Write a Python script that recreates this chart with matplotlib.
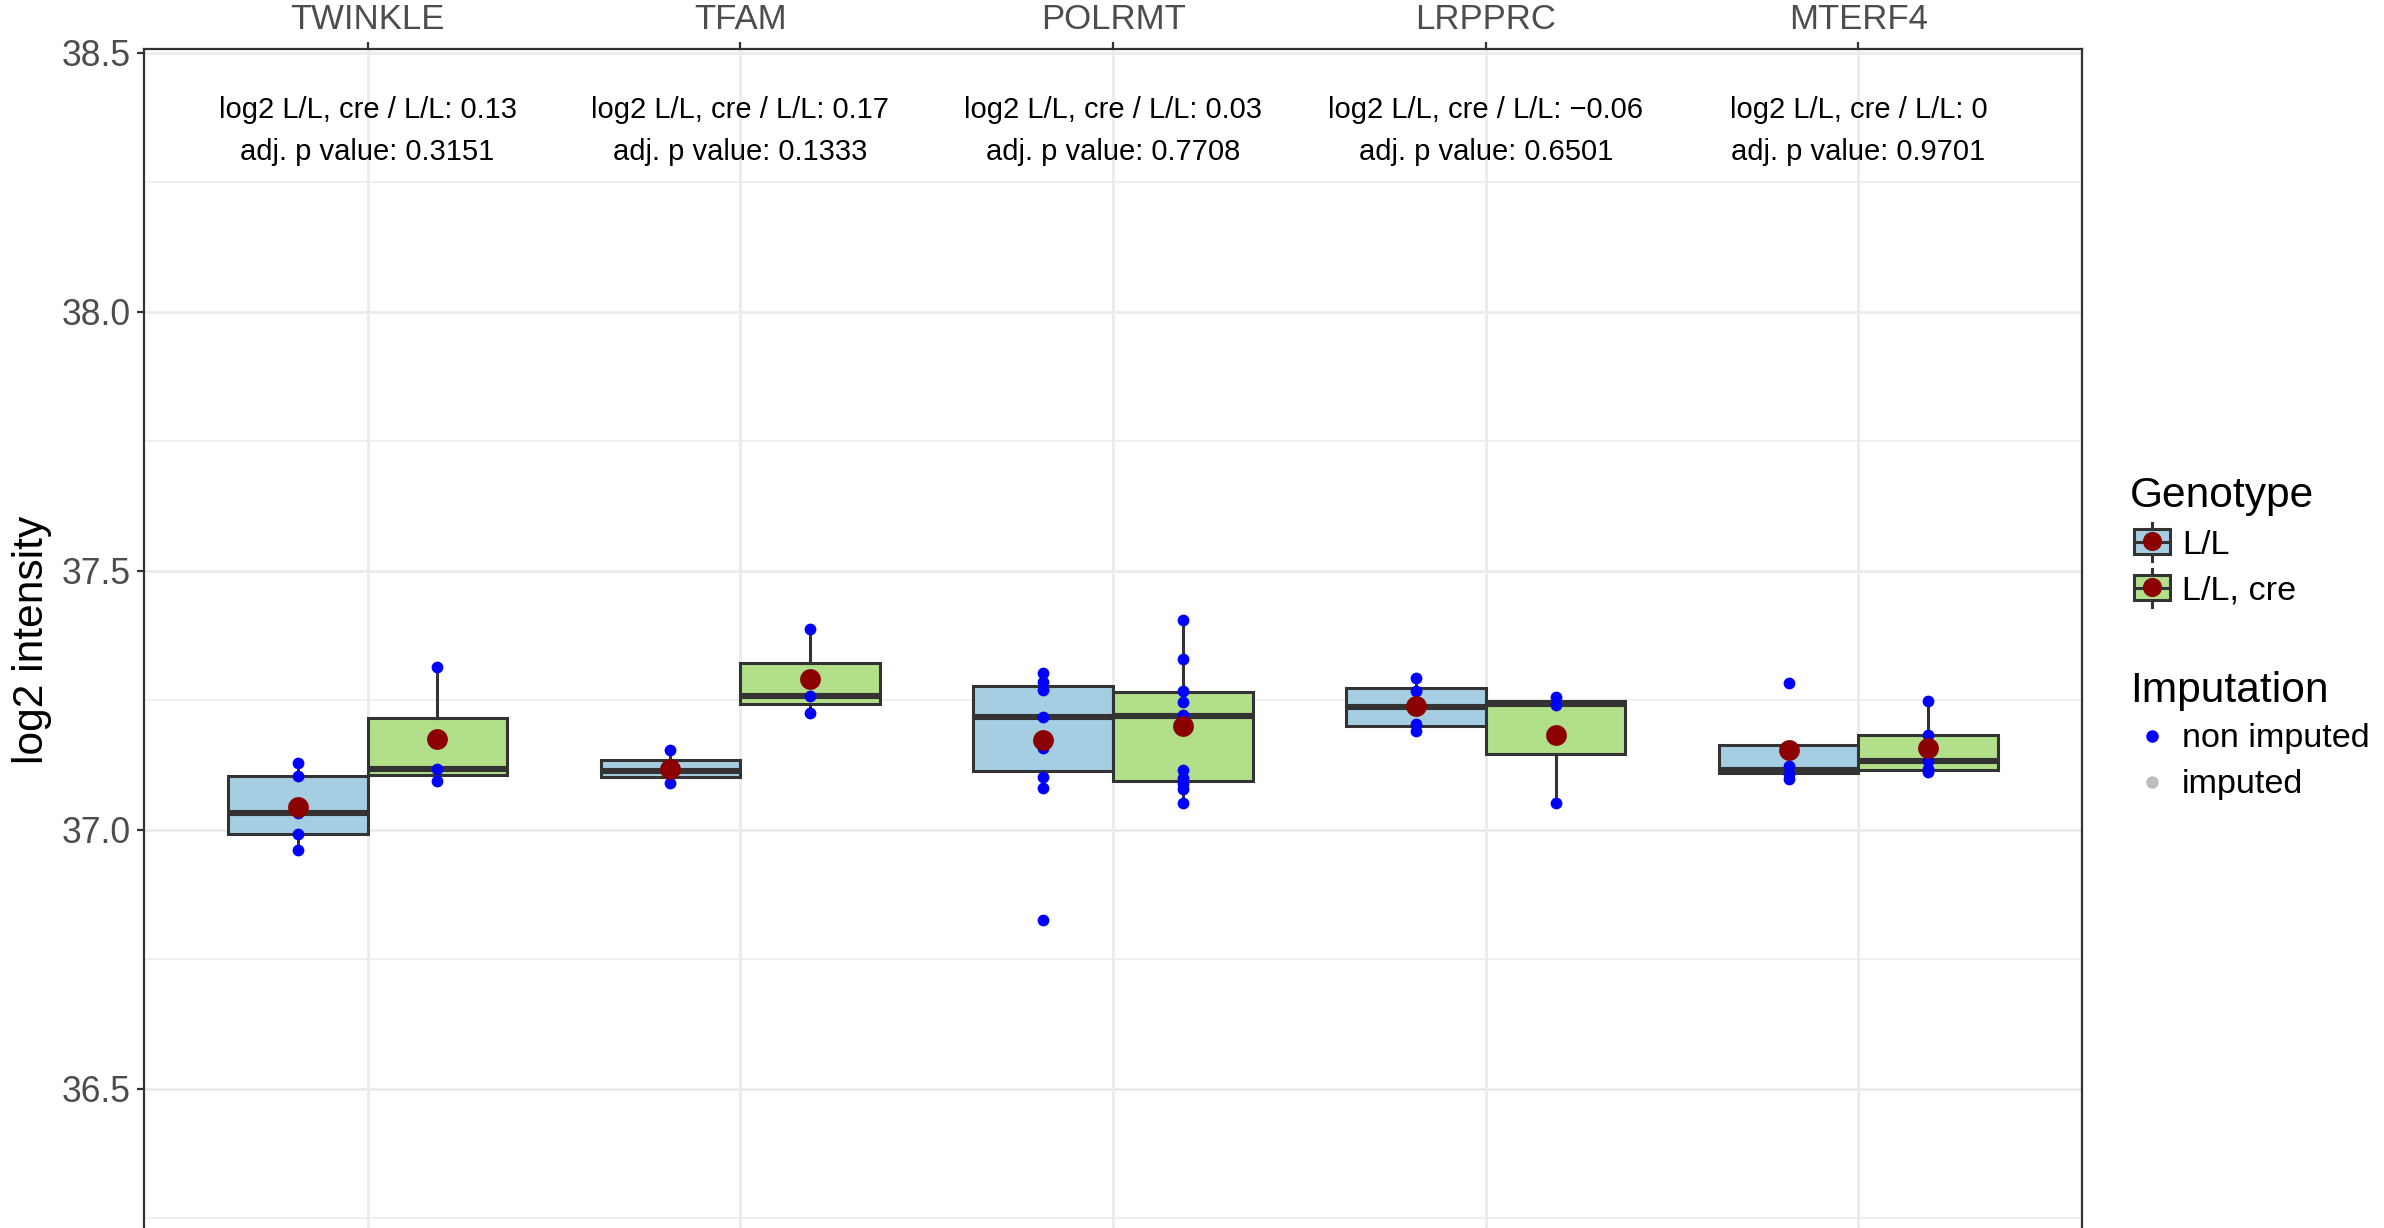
import matplotlib
matplotlib.use("Agg")
import matplotlib.pyplot as plt
from matplotlib.patches import Rectangle
from matplotlib.ticker import FixedLocator

plt.rcParams['font.family'] = ['Liberation Sans', 'DejaVu Sans']

# data
genes = ["TWINKLE", "TFAM", "POLRMT", "LRPPRC", "MTERF4"]
genotypes = ["L/L", "L/L, cre"]

points_ll = [
    [37.129, 37.103, 37.033, 36.992, 36.961],
    [37.154, 37.114, 37.090],
    [37.302, 37.286, 37.269, 37.218, 37.157, 37.102, 37.081, 36.825],
    [37.292, 37.268, 37.238, 37.205, 37.191],
    [37.284, 37.160, 37.123, 37.108, 37.097],
]
points_cre = [
    [37.314, 37.117, 37.095],
    [37.387, 37.258, 37.226],
    [37.404, 37.330, 37.268, 37.247, 37.221, 37.115, 37.100, 37.088, 37.079, 37.052],
    [37.257, 37.241, 37.052],
    [37.249, 37.182, 37.133, 37.118, 37.112],
]

# box statistics (q1, median, q3, whisker low, whisker high) and group means
q1_ll = [36.992, 37.102, 37.114, 37.2005, 37.110]
med_ll = [37.033, 37.114, 37.218, 37.236, 37.115]
q3_ll = [37.103, 37.134, 37.277, 37.273, 37.163]
lo_ll = [36.961, 37.090, 37.081, 37.191, 37.097]
hi_ll = [37.129, 37.154, 37.302, 37.292, 37.163]
mean_ll = [37.044, 37.118, 37.173, 37.2385, 37.1535]

q1_cre = [37.105, 37.242, 37.095, 37.147, 37.115]
med_cre = [37.117, 37.258, 37.220, 37.243, 37.133]
q3_cre = [37.216, 37.322, 37.265, 37.249, 37.182]
lo_cre = [37.095, 37.226, 37.052, 37.052, 37.112]
hi_cre = [37.314, 37.387, 37.404, 37.257, 37.249]
mean_cre = [37.175, 37.290, 37.200, 37.182, 37.158]

log2fc = ["0.13", "0.17", "0.03", "\u22120.06", "0"]
adj_p = ["0.3151", "0.1333", "0.7708", "0.6501", "0.9701"]

fill_colors = ["#A6CEE3", "#B2DF8A"]
line_col = "#333333"
W, H = 2384, 1228

fig = plt.figure(figsize=(W / 200, H / 200), dpi=200)
ax = fig.add_axes([144 / W, -3 / H, (2082 - 144) / W, (1231 - 49.3) / H])

x = list(range(1, len(genes) + 1))
dodge = 0.1875
groups = [
    (points_ll, q1_ll, med_ll, q3_ll, lo_ll, hi_ll, mean_ll, -dodge),
    (points_cre, q1_cre, med_cre, q3_cre, lo_cre, hi_cre, mean_cre, dodge),
]
for k, (pts, q1, med, q3, lo, hi, mn, off) in enumerate(groups):
    stats = []
    for i in range(len(genes)):
        stats.append(dict(q1=q1[i], med=med[i], q3=q3[i], whislo=lo[i],
                          whishi=hi[i], fliers=[]))
    pos = [xi + off for xi in x]
    ax.bxp(stats, positions=pos, widths=0.375, patch_artist=True,
           showcaps=False, showfliers=False, manage_ticks=False,
           boxprops=dict(facecolor=fill_colors[k], edgecolor=line_col, linewidth=1.1),
           whiskerprops=dict(color=line_col, linewidth=1.1),
           medianprops=dict(color=line_col, linewidth=2.2),
           zorder=2)
    for i in range(len(genes)):
        ax.scatter([pos[i]] * len(pts[i]), pts[i], s=18, color="#0000FF",
                   linewidths=0, zorder=3)
    ax.scatter(pos, mn, s=56, color="#8B0000", linewidths=0, zorder=4)

for i, g in enumerate(genes):
    ax.text(x[i], 38.3734, "log2 L/L, cre / L/L: " + log2fc[i], ha="center",
            va="baseline", fontsize=10.5, color="black")
    ax.text(x[i], 38.2929, "adj. p value: " + adj_p[i], ha="center",
            va="baseline", fontsize=10.5, color="black")

ax.set_xlim(0.4, 5.6)
ax.set_ylim(36.2253, 38.5066)
ax.set_xticks(x)
ax.set_xticklabels(genes)
ax.xaxis.tick_top()
ax.set_yticks([36.5, 37.0, 37.5, 38.0, 38.5])
ax.set_yticklabels(["36.5", "37.0", "37.5", "38.0", "38.5"])
ax.yaxis.set_minor_locator(FixedLocator([36.25, 36.75, 37.25, 37.75, 38.25]))
ax.tick_params(axis="both", which="major", length=2.4, width=0.8, color=line_col,
               labelcolor="#4D4D4D", labelsize=12.8, pad=2.3)
ax.tick_params(axis="x", labelsize=12.5)
ax.tick_params(which="minor", length=0)
ax.grid(True, which="major", color="#EBEBEB", linewidth=1.0)
ax.grid(True, which="minor", axis="y", color="#EBEBEB", linewidth=0.55)
ax.set_axisbelow(True)
for name, sp in ax.spines.items():
    sp.set_color(line_col)
    sp.set_linewidth(0.8)
ax.spines["bottom"].set_visible(False)

ax.set_ylabel("log2 intensity", fontsize=15.3, va="center")
ax.yaxis.set_label_coords((32.5 - 144) / (2082 - 144), (1231 - 640) / (1231 - 49.3))

# legends, drawn in pixel coordinates
lax = fig.add_axes([0, 0, 1, 1], facecolor="none")
lax.set_xlim(0, W)
lax.set_ylim(H, 0)
lax.axis("off")

lax.text(2130, 506.7, "Genotype", fontsize=15.3, va="baseline", ha="left")
key_y = [541.5, 587.5]
for k, lab in enumerate(genotypes):
    cy = key_y[k]
    lax.plot([2152, 2152], [cy - 19, cy + 19], color=line_col, lw=1.1, zorder=1)
    lax.add_patch(Rectangle((2134, cy - 12.5), 36, 25, facecolor=fill_colors[k],
                            edgecolor=line_col, lw=1.1, zorder=2))
    lax.plot([2134, 2170], [cy, cy], color=line_col, lw=1.1, zorder=3)
    lax.plot([2152], [cy - 0.5], "o", ms=6.9, color="#8B0000", mec="none", zorder=4)
    lax.text(2182, cy + 12.5, lab, fontsize=12.3, va="baseline", ha="left")

lax.text(2130, 701.7, "Imputation", fontsize=15.3, va="baseline", ha="left")
imp_labels = ["non imputed", "imputed"]
imp_colors = ["#0000FF", "#BEBEBE"]
imp_y = [736, 782.3]
for k in range(2):
    lax.plot([2152], [imp_y[k]], "o", ms=4.5, color=imp_colors[k], mec="none")
    lax.text(2182, imp_y[k] + 11, imp_labels[k], fontsize=12.3, va="baseline", ha="left")

fig.savefig("out.png", dpi=200)
